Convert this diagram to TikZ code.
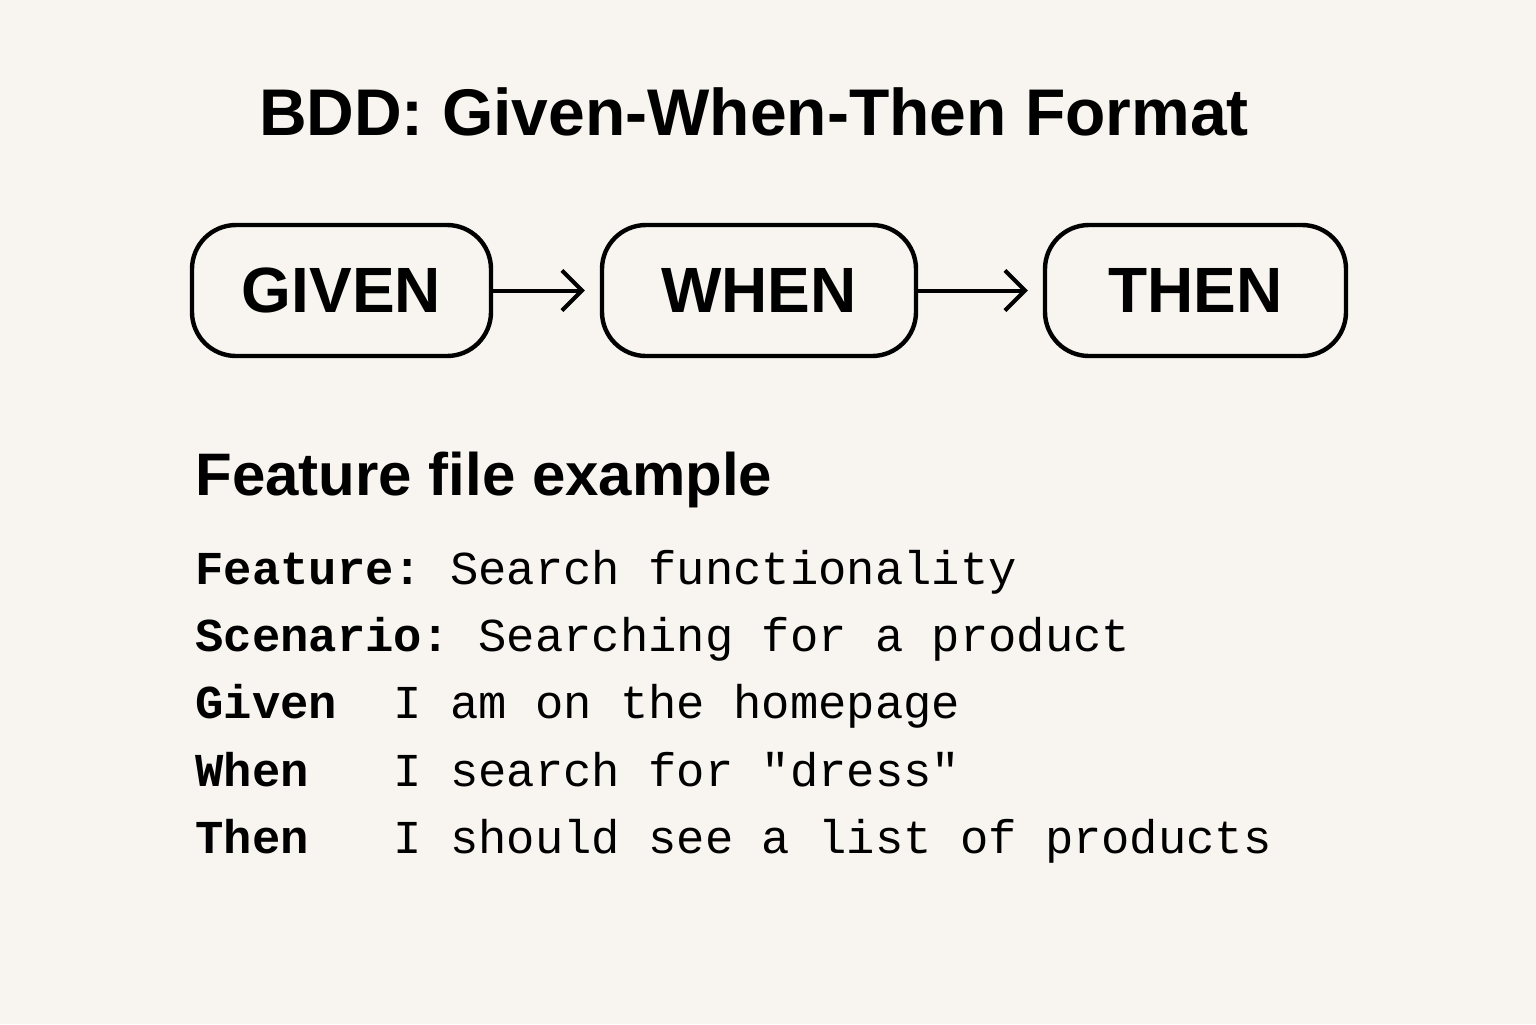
\documentclass[tikz,border=0pt]{standalone}
\usepackage{fontspec}
\setmainfont{Liberation Sans}
\setmonofont{Liberation Mono}
\usetikzlibrary{arrows.meta}
\definecolor{paper}{HTML}{F8F5F0}
\begin{document}
\begin{tikzpicture}[x=0.5pt, y=-0.5pt,
  stepbox/.style={draw, line width=2.2pt, rounded corners=22pt, inner sep=0pt,
    minimum height=65.5pt, font=\bfseries\fontsize{32}{32}\selectfont},
  flow/.style={-{Straight Barb[length=10pt, width=20pt]}, line width=2pt, shorten >=7.5pt},
  codeline/.style={anchor=base west, inner sep=0pt, font=\ttfamily\fontsize{23.6}{24}\selectfont}]

  % Background
  \fill[paper] (0,0) rectangle (1536,1024);

  % Title
  \node (title) [anchor=base, font=\bfseries\fontsize{33}{33}\selectfont] at (754,135) {BDD: Given-When-Then Format};

  % Steps
  \node (given) [stepbox, minimum width=149.5pt] at (341.5,290.5) {GIVEN};
  \node (when) [stepbox, minimum width=157pt] at (759,290.5) {WHEN};
  \node (then) [stepbox, minimum width=150.5pt] at (1195.5,290.5) {THEN};

  % Arrows
  \draw[flow] (given) -- (when);
  \draw[flow] (when) -- (then);

  % Feature file
  \node (example) [anchor=base west, inner sep=0pt, font=\bfseries\fontsize{30}{30}\selectfont] at (195,495) {Feature file example};
  \node (feature) [codeline] at (195,584) {\textbf{Feature:} Search functionality};
  \node (scenario) [codeline] at (195,651) {\textbf{Scenario:} Searching for a product};
  \node (givenline) [codeline] at (195,718) {\textbf{Given}\ \ I am on the homepage};
  \node (whenline) [codeline] at (195,786) {\textbf{When}\ \ \ I search for "dress"};
  \node (thenline) [codeline] at (195,853) {\textbf{Then}\ \ \ I should see a list of products};

\end{tikzpicture}
\end{document}
